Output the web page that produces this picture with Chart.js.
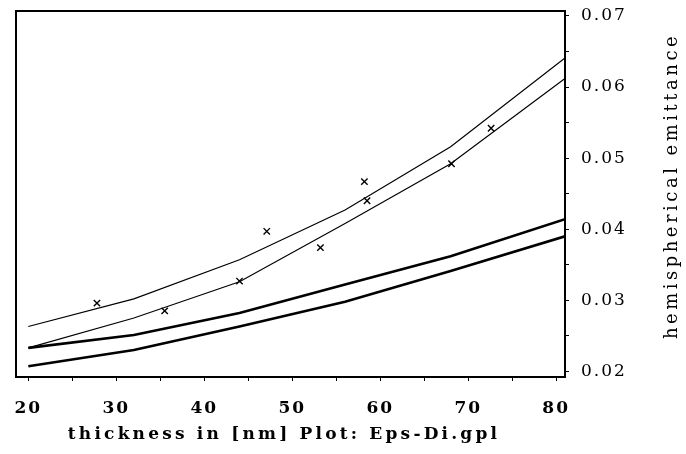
<!DOCTYPE html>
<html>
<head>
<meta charset="utf-8">
<script src="https://cdn.jsdelivr.net/npm/chart.js@4/dist/chart.umd.min.js"></script>
<style>
  html, body { margin: 0; padding: 0; background: #fff; }
  #wrap { width: 686px; height: 454px; }
</style>
</head>
<body>
<div id="wrap"><canvas id="c" width="686" height="454"></canvas></div>
<script>
// Film thickness (nm) at which the model curves are evaluated
const thickness = [20, 32, 44, 56, 68, 81];

// Model curves: two thin curves and two heavy curves
const curveUpper      = [0.0263, 0.0302, 0.0357, 0.0427, 0.0516, 0.0641];
const curveFit        = [0.0233, 0.0275, 0.0326, 0.0408, 0.0492, 0.0612];
const curveHeavyUpper = [0.0233, 0.0251, 0.0282, 0.0322, 0.0362, 0.0414];
const curveHeavyLower = [0.0207, 0.0230, 0.0263, 0.0298, 0.0341, 0.0390];

// Measured samples
const measuredThickness = [27.8, 35.5, 44.0, 47.1, 53.2, 58.2, 58.5, 68.1, 72.6];
const measuredEmittance = [0.0296, 0.0285, 0.0327, 0.0397, 0.0374, 0.0467, 0.0440, 0.0492, 0.0542];

// Labelled ticks
const xTickLabels = [20, 30, 40, 50, 60, 70, 80];
const yTickLabels = [0.02, 0.03, 0.04, 0.05, 0.06, 0.07];

const xTitle = 'thickness in [nm] Plot: Eps-Di.gpl';
const yTitle = 'hemispherical emittance';

const toPoints = (xs, ys) => xs.map((x, i) => ({ x, y: ys[i] }));

function lineSet(values, width) {
  return {
    type: 'line',
    data: toPoints(thickness, values),
    borderColor: '#000',
    borderWidth: width,
    pointRadius: 0,
    tension: 0,
    fill: false
  };
}

// Frame on the left and top, letter spacing, and the two axis titles
const framePlugin = {
  id: 'frame',
  beforeDraw(chart) {
    chart.ctx.letterSpacing = '2px';
  },
  afterDraw(chart) {
    const { ctx, chartArea: a } = chart;
    ctx.save();
    ctx.strokeStyle = '#000';
    ctx.lineWidth = 2;
    ctx.beginPath();
    ctx.moveTo(a.left, a.bottom);
    ctx.lineTo(a.left, a.top);
    ctx.lineTo(a.right, a.top);
    ctx.stroke();

    ctx.fillStyle = '#000';
    ctx.textAlign = 'center';
    ctx.textBaseline = 'middle';

    // bottom title
    ctx.letterSpacing = '3.2px';
    ctx.font = 'bold 17px "DejaVu Serif"';
    ctx.fillText(xTitle, 284, 435);

    // right-hand title, reading upwards
    ctx.letterSpacing = '3.5px';
    ctx.font = '18px "DejaVu Serif"';
    ctx.translate(672, (a.top + a.bottom) / 2 - 8);
    ctx.rotate(-Math.PI / 2);
    ctx.fillText(yTitle, 0, 0);
    ctx.restore();
  }
};

new Chart(document.getElementById('c'), {
  type: 'scatter',
  data: {
    datasets: [
      lineSet(curveUpper, 1.2),
      lineSet(curveFit, 1.2),
      lineSet(curveHeavyUpper, 2.6),
      lineSet(curveHeavyLower, 2.6),
      {
        type: 'scatter',
        data: toPoints(measuredThickness, measuredEmittance),
        pointStyle: 'crossRot',
        pointRadius: 4.5,
        borderColor: '#000',
        backgroundColor: '#000',
        borderWidth: 1.4
      }
    ]
  },
  options: {
    responsive: false,
    animation: false,
    layout: { padding: { left: 16, top: 11, right: 0, bottom: 0 } },
    plugins: { legend: { display: false }, tooltip: { enabled: false } },
    scales: {
      x: {
        type: 'linear',
        position: 'bottom',
        min: 18.6,
        max: 81,
        afterFit(scale) {
          scale.height = 77;
          scale.paddingLeft = 0;
          scale.paddingRight = 0;
        },
        grid: { drawOnChartArea: false, drawTicks: true, tickLength: 4, color: '#000', lineWidth: 1 },
        border: { display: true, color: '#000', width: 2 },
        ticks: {
          stepSize: 5,
          includeBounds: false,
          maxTicksLimit: 30,
          autoSkip: false,
          maxRotation: 0,
          padding: 17,
          color: '#000',
          font: { family: 'DejaVu Serif', size: 17, weight: 'bold' },
          callback: v => xTickLabels.includes(v) ? String(v) : ''
        },
        title: { display: false }
      },
      y: {
        type: 'linear',
        position: 'right',
        min: 0.0192,
        max: 0.0707,
        afterFit(scale) {
          scale.width = 121;
          scale.paddingTop = 0;
          scale.paddingBottom = 0;
        },
        grid: { drawOnChartArea: false, drawTicks: true, tickLength: 4, color: '#000', lineWidth: 1 },
        border: { display: true, color: '#000', width: 2 },
        ticks: {
          stepSize: 0.005,
          includeBounds: false,
          maxTicksLimit: 30,
          autoSkip: false,
          padding: 12,
          color: '#000',
          font: { family: 'DejaVu Serif', size: 17 },
          callback: v => {
            const hit = yTickLabels.find(t => Math.abs(t - v) < 1e-6);
            return hit !== undefined ? hit.toFixed(2) : '';
          }
        }
      }
    }
  },
  plugins: [framePlugin]
});
</script>
</body>
</html>
